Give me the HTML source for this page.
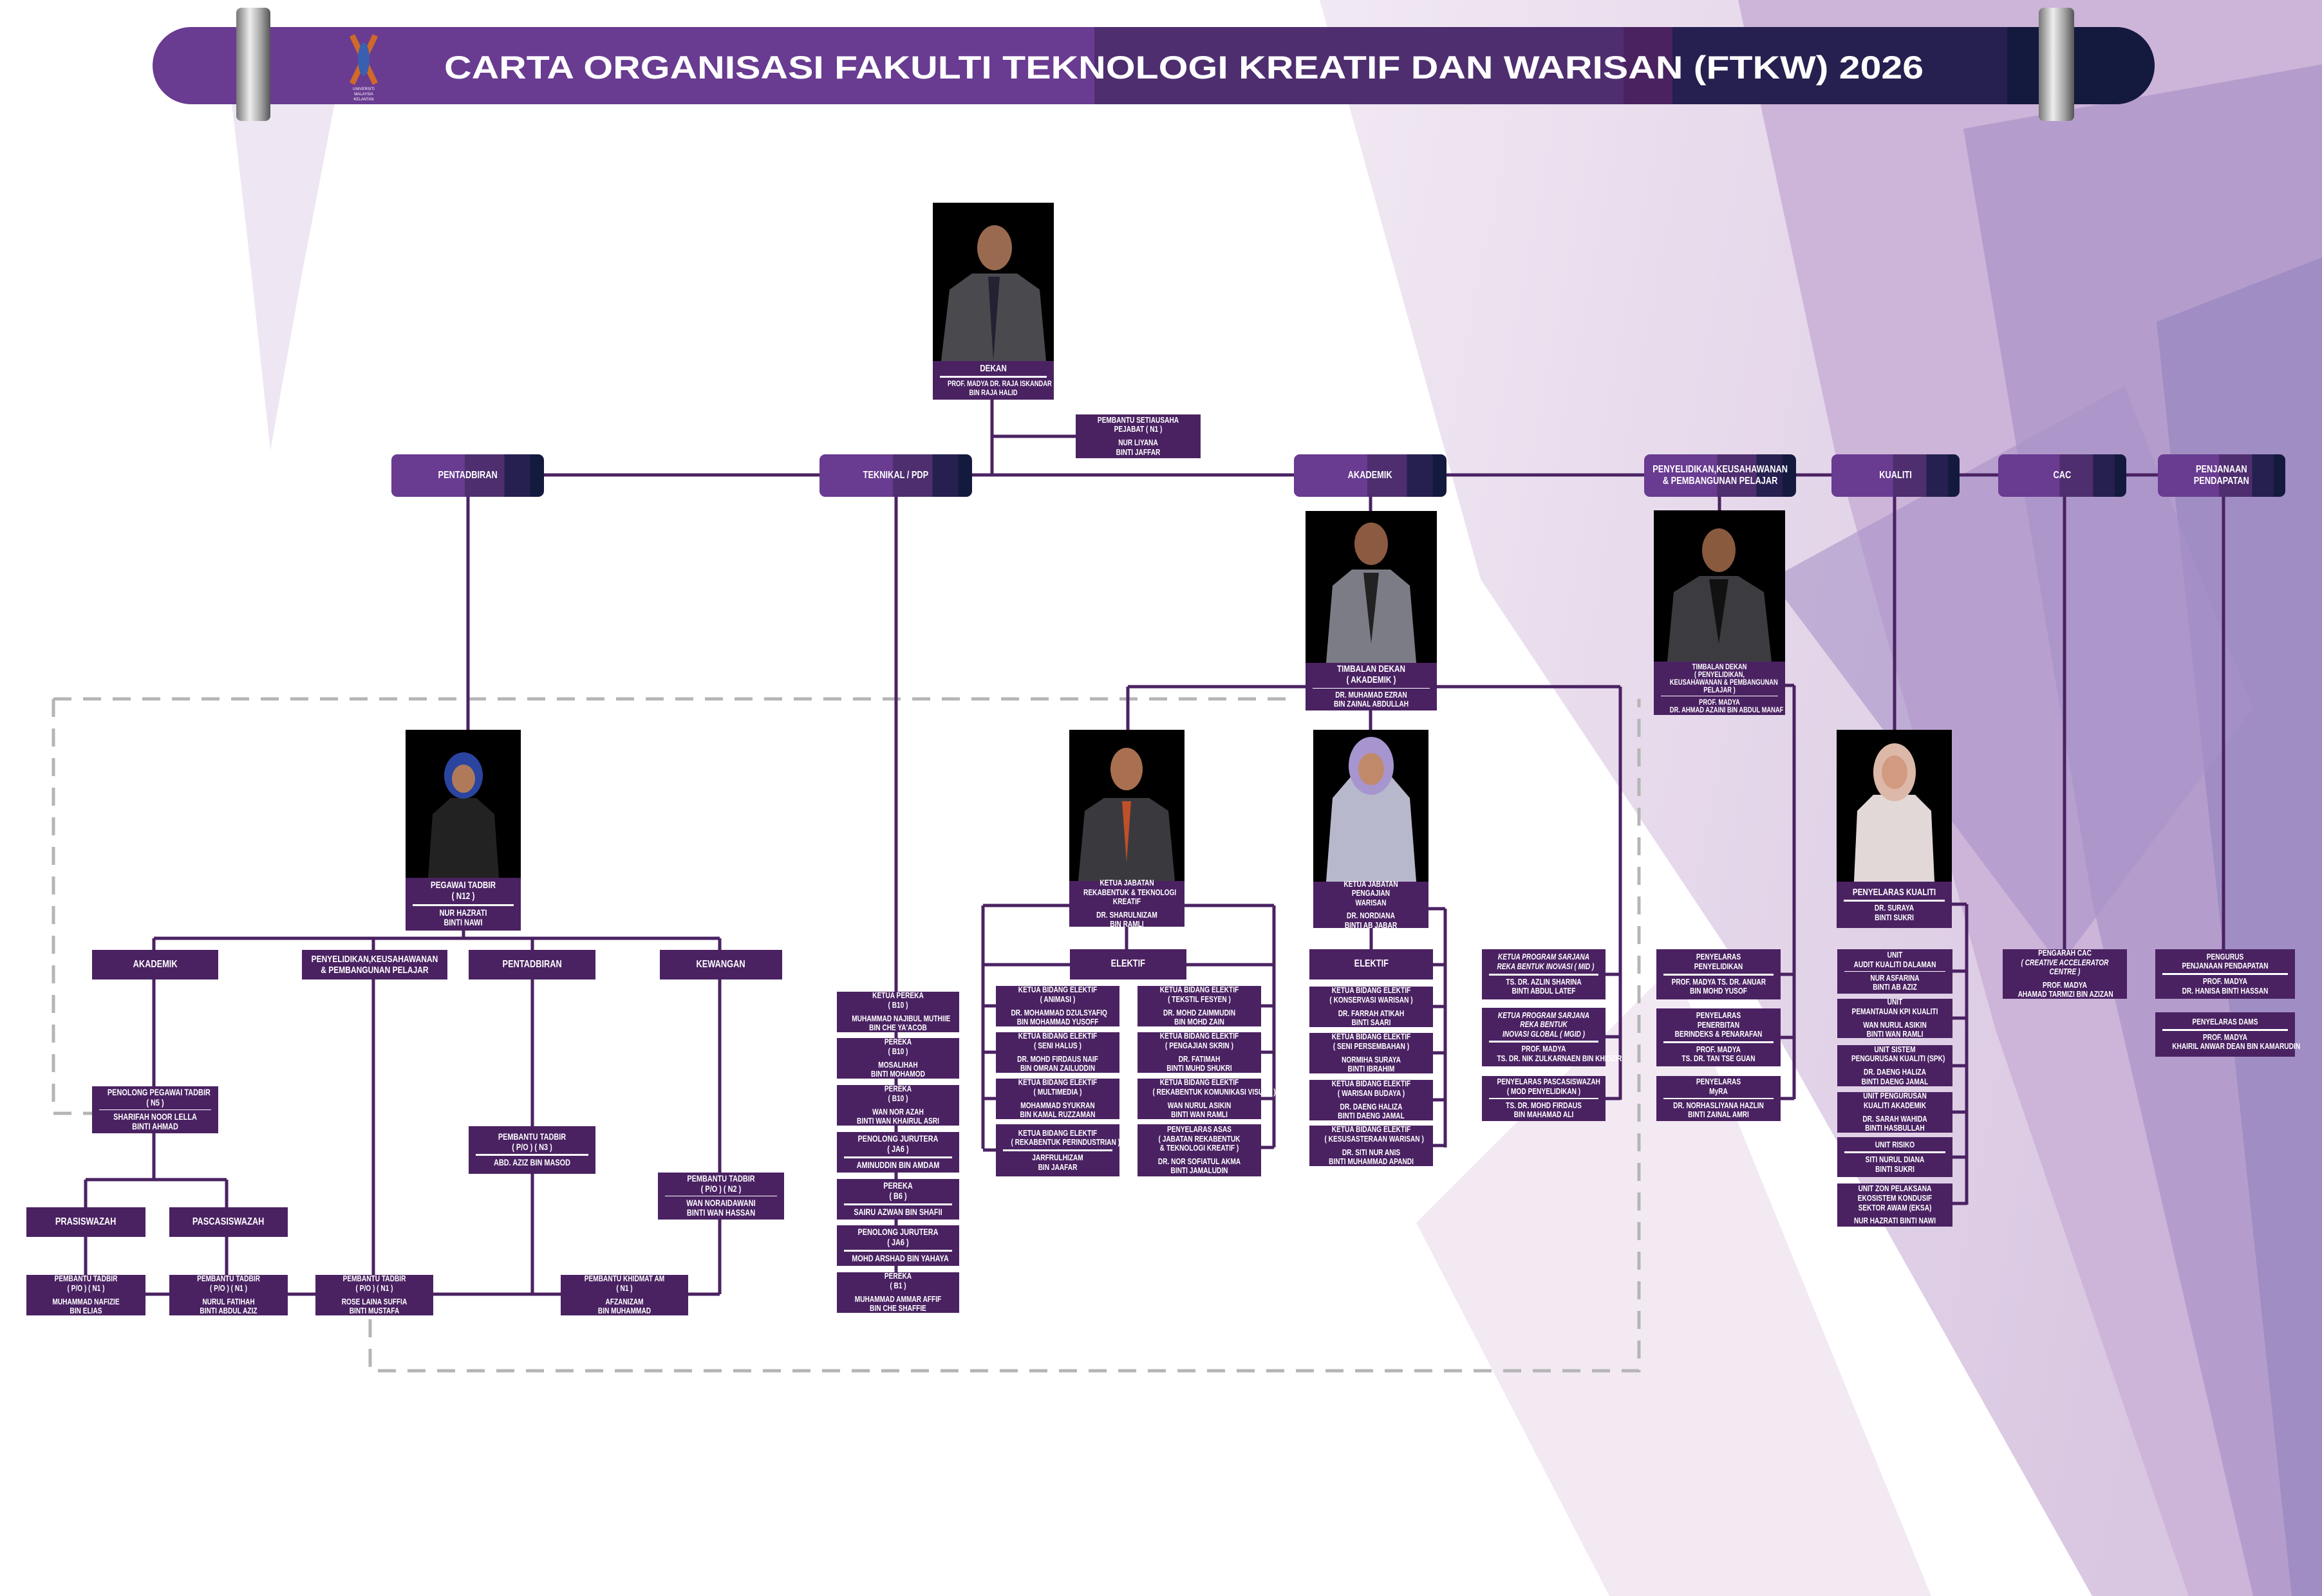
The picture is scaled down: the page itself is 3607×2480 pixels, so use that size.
<!DOCTYPE html>
<html><head><meta charset="utf-8">
<style>
*{margin:0;padding:0;box-sizing:border-box}
body{width:3607px;height:2480px;position:relative;overflow:hidden;background:#fff;font-family:"Liberation Sans Narrow","Liberation Sans",sans-serif}
.b{position:absolute;background:#4a2262;color:#fff;text-align:center;font-weight:bold;font-size:14px;line-height:1.12;display:flex;flex-direction:column;justify-content:center;padding:2px 3px}
.b>div{white-space:nowrap;transform:scaleX(.78)}
.b i{display:block;height:3px;background:#fff;margin:3px 8px}
.c{position:absolute;color:#fff;text-align:center;font-weight:bold;font-size:16px;line-height:1.15;display:flex;align-items:center;justify-content:center;border-radius:9px;background:linear-gradient(90deg,#693b91 0 48%,#4e2e6f 48% 74%,#25204f 74% 91%,#141a3e 91%)}
.c span,.k span{display:block;white-space:nowrap;transform:scaleX(.8)}
.k{position:absolute;background:#4a2262;color:#fff;text-align:center;font-weight:bold;font-size:16px;display:flex;align-items:center;justify-content:center;line-height:1.15}
.p{position:absolute}
</style></head><body>
<svg class="p" style="left:0;top:0" width="3607" height="2480">
<defs>
<linearGradient id="bg1" x1="0" y1="0" x2="1" y2="0.3"><stop offset="0" stop-color="#f1e9f3"/><stop offset="1" stop-color="#d9c6e1"/></linearGradient>
<linearGradient id="ring" x1="0" x2="1"><stop offset="0" stop-color="#777"/><stop offset=".4" stop-color="#eee"/><stop offset=".7" stop-color="#aaa"/><stop offset="1" stop-color="#555"/></linearGradient>
</defs>
<polygon points="2050,0 3607,0 3607,2480 3250,2480 2700,1500 2300,900" fill="url(#bg1)"/>
<polygon points="2700,0 3607,0 3607,2480 3400,2480 3100,1600 2850,700" fill="#cdb4d9"/>
<polygon points="3050,200 3607,100 3607,2480 3500,2480 3250,1400" fill="#b49dcc"/>
<polygon points="3350,500 3607,400 3607,2480 3560,2480" fill="#9f8dc3"/>
<polygon points="2750,900 3300,600 3500,1100 3200,1500" fill="#a993c8" opacity=".6"/>
<polygon points="2200,1900 2600,1500 3000,2480 2500,2480" fill="#efe3f0" opacity=".8"/>
<polygon points="360,160 520,160 470,420 420,700 390,420" fill="#e2d6ea" opacity=".6"/>
<rect x="237" y="42" width="3110" height="120" rx="60" fill="#693b91"/>
<rect x="1700" y="42" width="822" height="120" fill="#4e2e6f"/>
<rect x="2522" y="42" width="76" height="120" fill="#4a2260"/>
<rect x="2598" y="42" width="520" height="120" fill="#25204f"/>
<path d="M3118 42 H3287 A60 60 0 0 1 3287 162 H3118Z" fill="#141a3e"/>
<rect x="367" y="12" width="53" height="176" rx="8" fill="url(#ring)"/>
<rect x="3167" y="12" width="55" height="176" rx="8" fill="url(#ring)"/>
<path d="M547 55 L583 130 M583 55 L547 130" stroke="#d06a2a" stroke-width="9"/>
<ellipse cx="565" cy="92" rx="9" ry="26" fill="#3a5fb0"/>
<text x="565" y="140" font-size="6" fill="#fff" text-anchor="middle" font-family="Liberation Sans">UNIVERSITI</text>
<text x="565" y="148" font-size="6" fill="#fff" text-anchor="middle" font-family="Liberation Sans">MALAYSIA</text>
<text x="565" y="156" font-size="6" fill="#fff" text-anchor="middle" font-family="Liberation Sans">KELANTAN</text>
<text x="690" y="122" font-family="Liberation Sans" font-weight="bold" font-size="50" fill="#fff" textLength="2298" lengthAdjust="spacingAndGlyphs">CARTA ORGANISASI FAKULTI TEKNOLOGI KREATIF DAN WARISAN (FTKW) 2026</text>
<g stroke="#b5b5b5" stroke-width="5" stroke-dasharray="28 18" fill="none">
<path d="M83 1086 H2012 M83 1086 V1730 H143 M575 2050 V2130 H2546 V1086"/>
</g>
<g stroke="#4a2262" stroke-width="5" fill="none">
<path d="M1541 621V738 M1541 678H1671 M845 738H3352"/>
<path d="M727 772V1134 M720 1444V1458 M239 1458H1118 M239 1458V1833 M580 1458V1981 M827 1458V2011 M1118 1458V2011 M133 1833H352 M133 1833V1981 M352 1833V1981 M226 2011H1118"/>
<path d="M1392 772V1977"/>
<path d="M2129 772V1134 M1752 1067H2517 M1752 1067V1134 M2517 1067V1709 M2494 1514H2517 M2494 1611H2517 M2494 1707H2517"/>
<path d="M1527 1407H1661 M1840 1407H1979 M1527 1407V1785 M1979 1407V1783 M1750 1440V1475 M1527 1499H1979 M1527 1563H1547 M1527 1635H1547 M1527 1707H1547 M1527 1787H1547 M1959 1563H1979 M1959 1635H1979 M1959 1707H1979 M1959 1783H1979"/>
<path d="M2219 1412H2245 M2245 1412V1783 M2130 1442V1475 M2226 1499H2245 M2226 1564H2245 M2226 1636H2245 M2226 1709H2245 M2226 1780H2245"/>
<path d="M2671 772V793 M2773 1065H2787 M2787 1065V1708 M2766 1514H2787 M2766 1612H2787 M2766 1707H2787"/>
<path d="M2943 772V1134 M3032 1405H3055 M3055 1405V1872 M3033 1509H3055 M3033 1582H3055 M3033 1656H3055 M3033 1728H3055 M3033 1798H3055 M3033 1870H3055"/>
<path d="M3207 772V1475 M3454 772V1475"/>
</g>
<g>
<rect x="1449" y="315" width="188" height="246" fill="#000"/>
<path d="M1462 561 L1475 450 L1510 425 L1580 425 L1615 450 L1625 561Z" fill="#4a4a4e"/><path d="M1535 430 L1543 561 L1553 430Z" fill="#223"/><ellipse cx="1545" cy="385" rx="27" ry="35" fill="#9a6a50"/>
<rect x="2028" y="794" width="204" height="236" fill="#000"/>
<path d="M2060 1030 L2070 910 L2100 885 L2160 885 L2190 910 L2200 1030Z" fill="#7c7c86"/><path d="M2118 890 L2130 1000 L2142 890Z" fill="#222"/><ellipse cx="2130" cy="845" rx="26" ry="33" fill="#8b5a40"/>
<rect x="2569" y="793" width="204" height="235" fill="#000"/>
<path d="M2590 1028 L2600 920 L2640 895 L2700 895 L2740 920 L2752 1028Z" fill="#3c3c40"/><path d="M2655 900 L2670 1000 L2685 900Z" fill="#111"/><ellipse cx="2670" cy="855" rx="26" ry="34" fill="#8a5a3e"/>
<rect x="630" y="1134" width="179" height="230" fill="#000"/>
<path d="M665 1364 L672 1265 L700 1240 L740 1240 L768 1265 L775 1364Z" fill="#222"/><ellipse cx="720" cy="1205" rx="30" ry="36" fill="#2a44a0"/><ellipse cx="720" cy="1210" rx="18" ry="22" fill="#b07a5a"/>
<rect x="1661" y="1134" width="179" height="235" fill="#000"/>
<path d="M1675 1369 L1685 1260 L1715 1240 L1785 1240 L1815 1260 L1825 1369Z" fill="#3a3a3e"/><path d="M1743 1245 L1750 1340 L1757 1245Z" fill="#c0502a"/><ellipse cx="1750" cy="1195" rx="25" ry="33" fill="#a87050"/>
<rect x="2040" y="1134" width="179" height="236" fill="#000"/>
<path d="M2060 1370 L2070 1240 L2100 1205 L2160 1205 L2190 1240 L2200 1370Z" fill="#b8b8cc"/><ellipse cx="2130" cy="1190" rx="35" ry="45" fill="#a795cf"/><ellipse cx="2130" cy="1195" rx="20" ry="25" fill="#c08a6a"/>
<rect x="2853" y="1134" width="179" height="236" fill="#000"/>
<path d="M2880 1370 L2885 1260 L2910 1235 L2975 1235 L3000 1260 L3005 1370Z" fill="#e2d8d8"/><ellipse cx="2943" cy="1200" rx="33" ry="45" fill="#dcb8a8"/><ellipse cx="2943" cy="1200" rx="20" ry="26" fill="#d29a80"/>
</g>
</svg>

<div class="b" style="left:1449px;top:561px;width:188px;height:60px;font-size:12px"><div style="font-size:15px">DEKAN</div><i></i><div>PROF. MADYA DR. RAJA ISKANDAR<br>BIN RAJA HALID</div></div>
<div class="b" style="left:1671px;top:644px;width:194px;height:68px;font-size:13px"><div>PEMBANTU SETIAUSAHA<br>PEJABAT ( N1 )</div><i></i><div>NUR LIYANA<br>BINTI JAFFAR</div></div>

<div class="c" style="left:608px;top:706px;width:237px;height:66px"><span>PENTADBIRAN</span></div>
<div class="c" style="left:1273px;top:706px;width:237px;height:66px"><span>TEKNIKAL / PDP</span></div>
<div class="c" style="left:2010px;top:706px;width:237px;height:66px"><span>AKADEMIK</span></div>
<div class="c" style="left:2554px;top:706px;width:236px;height:66px;font-size:16px"><span>PENYELIDIKAN,KEUSAHAWANAN<br>&amp; PEMBANGUNAN PELAJAR</span></div>
<div class="c" style="left:2845px;top:706px;width:199px;height:66px"><span>KUALITI</span></div>
<div class="c" style="left:3104px;top:706px;width:199px;height:66px"><span>CAC</span></div>
<div class="c" style="left:3352px;top:706px;width:198px;height:66px"><span>PENJANAAN<br>PENDAPATAN</span></div>

<div class="b" style="left:630px;top:1364px;width:179px;height:82px;font-size:14px"><div style="font-size:15px">PEGAWAI TADBIR<br>( N12 )</div><i></i><div>NUR HAZRATI<br>BINTI NAWI</div></div>
<div class="k" style="left:143px;top:1476px;width:196px;height:46px"><span>AKADEMIK</span></div>
<div class="k" style="left:469px;top:1476px;width:226px;height:46px;font-size:15px"><span>PENYELIDIKAN,KEUSAHAWANAN<br>&amp; PEMBANGUNAN PELAJAR</span></div>
<div class="k" style="left:728px;top:1476px;width:197px;height:46px"><span>PENTADBIRAN</span></div>
<div class="k" style="left:1025px;top:1476px;width:190px;height:46px"><span>KEWANGAN</span></div>
<div class="b" style="left:143px;top:1688px;width:196px;height:73px"><div>PENOLONG PEGAWAI TADBIR<br>( N5 )</div><i></i><div>SHARIFAH NOOR LELLA<br>BINTI AHMAD</div></div>
<div class="b" style="left:728px;top:1750px;width:197px;height:74px"><div>PEMBANTU TADBIR<br>( P/O ) ( N3 )</div><i></i><div>ABD. AZIZ BIN MASOD</div></div>
<div class="b" style="left:1022px;top:1822px;width:196px;height:73px"><div>PEMBANTU TADBIR<br>( P/O ) ( N2 )</div><i></i><div>WAN NORAIDAWANI<br>BINTI WAN HASSAN</div></div>
<div class="k" style="left:41px;top:1876px;width:185px;height:46px"><span>PRASISWAZAH</span></div>
<div class="k" style="left:263px;top:1876px;width:184px;height:46px"><span>PASCASISWAZAH</span></div>
<div class="b" style="left:41px;top:1981px;width:185px;height:63px;font-size:13px"><div>PEMBANTU TADBIR<br>( P/O ) ( N1 )</div><i></i><div>MUHAMMAD NAFIZIE<br>BIN ELIAS</div></div>
<div class="b" style="left:263px;top:1981px;width:184px;height:63px;font-size:13px"><div>PEMBANTU TADBIR<br>( P/O ) ( N1 )</div><i></i><div>NURUL FATIHAH<br>BINTI ABDUL AZIZ</div></div>
<div class="b" style="left:490px;top:1981px;width:183px;height:63px;font-size:13px"><div>PEMBANTU TADBIR<br>( P/O ) ( N1 )</div><i></i><div>ROSE LAINA SUFFIA<br>BINTI MUSTAFA</div></div>
<div class="b" style="left:871px;top:1981px;width:198px;height:63px;font-size:13px"><div>PEMBANTU KHIDMAT AM<br>( N1 )</div><i></i><div>AFZANIZAM<br>BIN MUHAMMAD</div></div>

<div class="b" style="left:1300px;top:1541px;width:190px;height:63px;font-size:13px"><div>KETUA PEREKA<br>( B10 )</div><i></i><div>MUHAMMAD NAJIBUL MUTHIIE<br>BIN CHE YA'ACOB</div></div>
<div class="b" style="left:1300px;top:1613px;width:190px;height:63px;font-size:13px"><div>PEREKA<br>( B10 )</div><i></i><div>MOSALIHAH<br>BINTI MOHAMOD</div></div>
<div class="b" style="left:1300px;top:1686px;width:190px;height:63px;font-size:13px"><div>PEREKA<br>( B10 )</div><i></i><div>WAN NOR AZAH<br>BINTI WAN KHAIRUL ASRI</div></div>
<div class="b" style="left:1300px;top:1759px;width:190px;height:63px"><div>PENOLONG JURUTERA<br>( JA6 )</div><i></i><div>AMINUDDIN BIN AMDAM</div></div>
<div class="b" style="left:1300px;top:1832px;width:190px;height:63px"><div>PEREKA<br>( B6 )</div><i></i><div>SAIRU AZWAN BIN SHAFII</div></div>
<div class="b" style="left:1300px;top:1904px;width:190px;height:63px"><div>PENOLONG JURUTERA<br>( JA6 )</div><i></i><div>MOHD ARSHAD BIN YAHAYA</div></div>
<div class="b" style="left:1300px;top:1977px;width:190px;height:63px;font-size:13px"><div>PEREKA<br>( B1 )</div><i></i><div>MUHAMMAD AMMAR AFFIF<br>BIN CHE SHAFFIE</div></div>

<div class="b" style="left:2028px;top:1030px;width:204px;height:74px;font-size:13px"><div style="font-size:15px">TIMBALAN DEKAN<br>( AKADEMIK )</div><i></i><div>DR. MUHAMAD EZRAN<br>BIN ZAINAL ABDULLAH</div></div>
<div class="b" style="left:1661px;top:1369px;width:179px;height:71px;font-size:13px"><div>KETUA JABATAN<br>REKABENTUK &amp; TEKNOLOGI<br>KREATIF</div><i></i><div>DR. SHARULNIZAM<br>BIN RAMLI</div></div>
<div class="b" style="left:2040px;top:1370px;width:179px;height:72px;font-size:13px"><div>KETUA JABATAN<br>PENGAJIAN<br>WARISAN</div><i></i><div>DR. NORDIANA<br>BINTI AB JABAR</div></div>
<div class="k" style="left:1662px;top:1475px;width:181px;height:47px"><span>ELEKTIF</span></div>
<div class="k" style="left:2034px;top:1475px;width:192px;height:47px"><span>ELEKTIF</span></div>

<div class="b" style="left:1547px;top:1532px;width:192px;height:63px;font-size:13px"><div>KETUA BIDANG ELEKTIF<br>( ANIMASI )</div><i></i><div>DR. MOHAMMAD DZULSYAFIQ<br>BIN MOHAMMAD YUSOFF</div></div>
<div class="b" style="left:1547px;top:1604px;width:192px;height:63px;font-size:13px"><div>KETUA BIDANG ELEKTIF<br>( SENI HALUS )</div><i></i><div>DR. MOHD FIRDAUS NAIF<br>BIN OMRAN ZAILUDDIN</div></div>
<div class="b" style="left:1547px;top:1676px;width:192px;height:63px;font-size:13px"><div>KETUA BIDANG ELEKTIF<br>( MULTIMEDIA )</div><i></i><div>MOHAMMAD SYUKRAN<br>BIN KAMAL RUZZAMAN</div></div>
<div class="b" style="left:1547px;top:1747px;width:192px;height:81px;font-size:13px"><div>KETUA BIDANG ELEKTIF<br>( REKABENTUK PERINDUSTRIAN )</div><i></i><div>JARFRULHIZAM<br>BIN JAAFAR</div></div>
<div class="b" style="left:1767px;top:1532px;width:192px;height:63px;font-size:13px"><div>KETUA BIDANG ELEKTIF<br>( TEKSTIL FESYEN )</div><i></i><div>DR. MOHD ZAIMMUDIN<br>BIN MOHD ZAIN</div></div>
<div class="b" style="left:1767px;top:1604px;width:192px;height:63px;font-size:13px"><div>KETUA BIDANG ELEKTIF<br>( PENGAJIAN SKRIN )</div><i></i><div>DR. FATIMAH<br>BINTI MUHD SHUKRI</div></div>
<div class="b" style="left:1767px;top:1676px;width:192px;height:63px;font-size:13px"><div>KETUA BIDANG ELEKTIF<br>( REKABENTUK KOMUNIKASI VISUAL )</div><i></i><div>WAN NURUL ASIKIN<br>BINTI WAN RAMLI</div></div>
<div class="b" style="left:1767px;top:1747px;width:192px;height:81px;font-size:13px"><div>PENYELARAS ASAS<br>( JABATAN REKABENTUK<br>&amp; TEKNOLOGI KREATIF )</div><i></i><div>DR. NOR SOFIATUL AKMA<br>BINTI JAMALUDIN</div></div>

<div class="b" style="left:2034px;top:1533px;width:192px;height:63px;font-size:13px"><div>KETUA BIDANG ELEKTIF<br>( KONSERVASI WARISAN )</div><i></i><div>DR. FARRAH ATIKAH<br>BINTI SAARI</div></div>
<div class="b" style="left:2034px;top:1605px;width:192px;height:63px;font-size:13px"><div>KETUA BIDANG ELEKTIF<br>( SENI PERSEMBAHAN )</div><i></i><div>NORMIHA SURAYA<br>BINTI IBRAHIM</div></div>
<div class="b" style="left:2034px;top:1678px;width:192px;height:63px;font-size:13px"><div>KETUA BIDANG ELEKTIF<br>( WARISAN BUDAYA )</div><i></i><div>DR. DAENG HALIZA<br>BINTI DAENG JAMAL</div></div>
<div class="b" style="left:2034px;top:1749px;width:192px;height:63px;font-size:13px"><div>KETUA BIDANG ELEKTIF<br>( KESUSASTERAAN WARISAN )</div><i></i><div>DR. SITI NUR ANIS<br>BINTI MUHAMMAD APANDI</div></div>

<div class="b" style="left:2302px;top:1475px;width:192px;height:78px;font-size:13px"><div style="font-style:italic">KETUA PROGRAM SARJANA<br>REKA BENTUK INOVASI ( MID )</div><i></i><div>TS. DR. AZLIN SHARINA<br>BINTI ABDUL LATEF</div></div>
<div class="b" style="left:2302px;top:1566px;width:192px;height:91px;font-size:13px"><div style="font-style:italic">KETUA PROGRAM SARJANA<br>REKA BENTUK<br>INOVASI GLOBAL ( MGID )</div><i></i><div>PROF. MADYA<br>TS. DR. NIK ZULKARNAEN BIN KHIDZIR</div></div>
<div class="b" style="left:2302px;top:1672px;width:192px;height:70px;font-size:13px"><div>PENYELARAS PASCASISWAZAH<br>( MOD PENYELIDIKAN )</div><i></i><div>TS. DR. MOHD FIRDAUS<br>BIN MAHAMAD ALI</div></div>

<div class="b" style="left:2569px;top:1028px;width:204px;height:83px;font-size:12px;line-height:1.0"><div>TIMBALAN DEKAN<br>( PENYELIDIKAN,<br>KEUSAHAWANAN &amp; PEMBANGUNAN<br>PELAJAR )</div><i></i><div>PROF. MADYA<br>DR. AHMAD AZAINI BIN ABDUL MANAF</div></div>
<div class="b" style="left:2573px;top:1475px;width:193px;height:78px;font-size:13px"><div>PENYELARAS<br>PENYELIDIKAN</div><i></i><div>PROF. MADYA TS. DR. ANUAR<br>BIN MOHD YUSOF</div></div>
<div class="b" style="left:2573px;top:1567px;width:193px;height:90px;font-size:13px"><div>PENYELARAS<br>PENERBITAN<br>BERINDEKS &amp; PENARAFAN</div><i></i><div>PROF. MADYA<br>TS. DR. TAN TSE GUAN</div></div>
<div class="b" style="left:2573px;top:1672px;width:193px;height:70px;font-size:13px"><div>PENYELARAS<br>MyRA</div><i></i><div>DR. NORHASLIYANA HAZLIN<br>BINTI ZAINAL AMRI</div></div>

<div class="b" style="left:2853px;top:1370px;width:179px;height:72px;font-size:13px"><div style="font-size:15px">PENYELARAS KUALITI</div><i></i><div>DR. SURAYA<br>BINTI SUKRI</div></div>
<div class="b" style="left:2854px;top:1475px;width:179px;height:69px;font-size:13px"><div>UNIT<br>AUDIT KUALITI DALAMAN</div><i></i><div>NUR ASFARINA<br>BINTI AB AZIZ</div></div>
<div class="b" style="left:2854px;top:1552px;width:179px;height:61px;font-size:13px"><div>UNIT<br>PEMANTAUAN KPI KUALITI</div><i></i><div>WAN NURUL ASIKIN<br>BINTI WAN RAMLI</div></div>
<div class="b" style="left:2854px;top:1624px;width:179px;height:64px;font-size:13px"><div>UNIT SISTEM<br>PENGURUSAN KUALITI (SPK)</div><i></i><div>DR. DAENG HALIZA<br>BINTI DAENG JAMAL</div></div>
<div class="b" style="left:2854px;top:1697px;width:179px;height:63px;font-size:13px"><div>UNIT PENGURUSAN<br>KUALITI AKADEMIK</div><i></i><div>DR. SARAH WAHIDA<br>BINTI HASBULLAH</div></div>
<div class="b" style="left:2854px;top:1767px;width:179px;height:62px;font-size:13px"><div>UNIT RISIKO</div><i></i><div>SITI NURUL DIANA<br>BINTI SUKRI</div></div>
<div class="b" style="left:2854px;top:1839px;width:179px;height:67px;font-size:13px"><div>UNIT ZON PELAKSANA<br>EKOSISTEM KONDUSIF<br>SEKTOR AWAM (EKSA)</div><i></i><div>NUR HAZRATI BINTI NAWI</div></div>

<div class="b" style="left:3111px;top:1475px;width:193px;height:77px;font-size:13px"><div>PENGARAH CAC<br><span style="font-style:italic">( CREATIVE ACCELERATOR<br>CENTRE )</span></div><i></i><div>PROF. MADYA<br>AHAMAD TARMIZI BIN AZIZAN</div></div>
<div class="b" style="left:3348px;top:1475px;width:217px;height:77px;font-size:13px"><div>PENGURUS<br>PENJANAAN PENDAPATAN</div><i></i><div>PROF. MADYA<br>DR. HANISA BINTI HASSAN</div></div>
<div class="b" style="left:3348px;top:1573px;width:217px;height:69px;font-size:13px"><div>PENYELARAS DAMS</div><i></i><div>PROF. MADYA<br>KHAIRIL ANWAR DEAN BIN KAMARUDIN</div></div>
</body></html>
